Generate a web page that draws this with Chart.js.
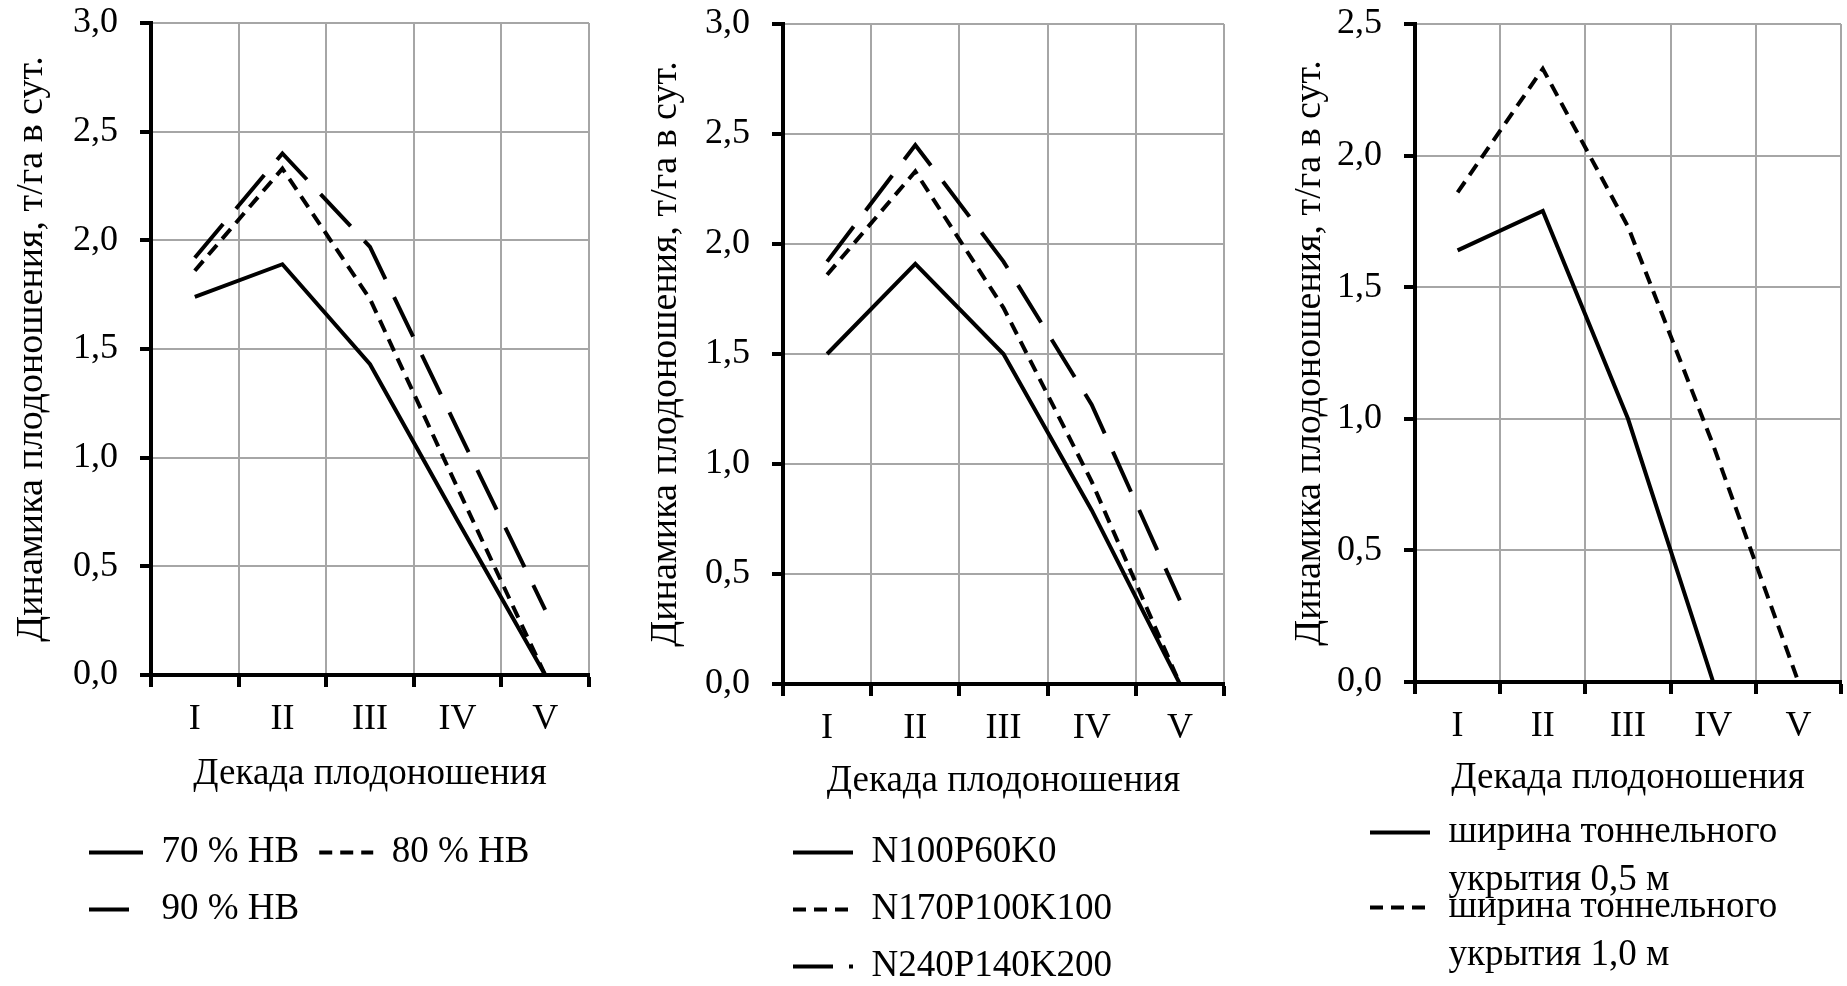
<!DOCTYPE html>
<html lang="ru">
<head>
<meta charset="utf-8">
<title>Динамика плодоношения</title>
<script src="https://cdn.jsdelivr.net/npm/chart.js@4.4.1/dist/chart.umd.min.js"></script>
<style>
  html, body { margin: 0; padding: 0; background: #fff; overflow: hidden; }
  body { width: 1847px; height: 986px; position: relative; }
  canvas { position: absolute; top: 0; }
  #c1 { left: 0; }
  #c2 { left: 620px; }
  #c3 { left: 1250px; }
</style>
</head>
<body>
<canvas id="c1" width="610" height="938"></canvas>
<canvas id="c2" width="625" height="995"></canvas>
<canvas id="c3" width="597" height="986"></canvas>
<script>
/* ===== data ===== */
const decades = ["I", "II", "III", "IV", "V"];

// chart 1: влажность почвы
const names1 = ["70 % НВ", "80 % НВ", "90 % НВ"];
const hb70 = [1.74, 1.89, 1.43, 0.71, 0];
const hb80 = [1.86, 2.33, 1.73, 0.86, 0];
const hb90 = [1.92, 2.40, 1.97, 1.13, 0.30];

// chart 2: удобрения
const names2 = ["N100P60K0", "N170P100K100", "N240P140K200"];
const npk1 = [1.50, 1.91, 1.50, 0.79, 0];
const npk2 = [1.86, 2.33, 1.71, 0.92, 0];
const npk3 = [1.92, 2.45, 1.92, 1.27, 0.38];

// chart 3: ширина укрытия
const names3 = [["ширина тоннельного", "укрытия 0,5 м"], ["ширина тоннельного", "укрытия 1,0 м"]];
const w05 = [1.64, 1.79, 1.00, 0, 0];
const w10 = [1.86, 2.33, 1.73, 0.90, 0];

const yTicks12 = { min: 0, max: 3, step: 0.5 };
const yTicks3 = { min: 0, max: 2.5, step: 0.5 };

const yTitle = "Динамика плодоношения, т/га в сут.";
const xTitle = "Декада плодоношения";

/* ===== styles ===== */
const SOLID = { line: [], legend: [] };
const SHORT = { line: [13, 8], legend: [13, 8] };
const LONG = { line: [44, 20], legend: [40, 16] };
const FONT = "Liberation Serif";

// two-line legend labels hang below the legend box; give them room
const legendOverflow = {
    id: "legendOverflow",
    afterLayout(chart, args, opts) {
        if (chart.legend && opts.extra) chart.legend.bottom += opts.extra;
    }
};

function buildChart(id, opt) {
    const datasets = opt.series.map(s => ({
        label: Array.isArray(s.name) ? s.name.join(" ") : s.name,
        legendText: s.name,
        legendDash: s.dash.legend,
        data: s.values,
        borderColor: "#000",
        borderWidth: 4,
        borderDash: s.dash.line,
        pointRadius: 0,
        tension: 0,
        fill: false
    }));

    return new Chart(document.getElementById(id), {
        type: "line",
        data: { labels: decades, datasets },
        plugins: [legendOverflow],
        options: {
            responsive: false,
            animation: false,
            events: [],
            layout: { padding: opt.pad },
            plugins: {
                tooltip: { enabled: false },
                legendOverflow: { extra: opt.legendExtra || 0 },
                legend: {
                    position: "bottom",
                    align: "start",
                    labels: {
                        usePointStyle: true,
                        pointStyleWidth: opt.sample,
                        padding: opt.legendGap,
                        color: "#000",
                        font: { family: FONT, size: 37, lineHeight: opt.legendLine },
                        generateLabels: chart => chart.data.datasets.map((ds, i) => ({
                            text: ds.legendText,
                            fillStyle: "rgba(0,0,0,0)",
                            strokeStyle: "#000",
                            fontColor: "#000",
                            lineWidth: 4,
                            lineDash: ds.legendDash,
                            lineCap: "butt",
                            pointStyle: "line",
                            hidden: false,
                            datasetIndex: i
                        }))
                    }
                }
            },
            scales: {
                x: {
                    offset: true,
                    afterFit: s => {
                        s.height = opt.xHeight;
                        s.paddingLeft = 0;
                        s.paddingRight = 0;
                    },
                    grid: {
                        offset: true,
                        color: "#a6a6a6",
                        lineWidth: 2,
                        tickColor: "#000",
                        tickWidth: 4,
                        tickLength: 12
                    },
                    border: { color: "#000", width: 4 },
                    ticks: { color: "#000", padding: 11, font: { family: FONT, size: 36 } },
                    title: {
                        display: true,
                        text: xTitle,
                        color: "#000",
                        font: { family: FONT, size: 37 },
                        padding: { top: 0, bottom: opt.xTitlePad }
                    }
                },
                y: {
                    min: opt.yRange.min,
                    max: opt.yRange.max,
                    afterFit: s => {
                        s.width = opt.yWidth;
                        s.paddingTop = 0;
                        s.paddingBottom = 0;
                    },
                    grid: {
                        color: "#a6a6a6",
                        lineWidth: 2,
                        tickColor: "#000",
                        tickWidth: 4,
                        tickLength: 11
                    },
                    border: { color: "#000", width: 4 },
                    // mirror + negative padding: labels sit 33px left of the axis
                    // without being clipped to the (narrow) scale box
                    ticks: {
                        stepSize: opt.yRange.step,
                        mirror: true,
                        crossAlign: "far",
                        padding: -78,
                        color: "#000",
                        font: { family: FONT, size: 36 },
                        callback: v => v.toFixed(1).replace(".", ",")
                    },
                    title: {
                        display: true,
                        text: yTitle,
                        color: "#000",
                        font: { family: FONT, size: 38 },
                        padding: { top: opt.yTitlePad, bottom: 0 }
                    }
                }
            }
        }
    });
}

buildChart("c1", {
    series: [
        { name: names1[0], values: hb70, dash: SOLID },
        { name: names1[1], values: hb80, dash: SHORT },
        { name: names1[2], values: hb90, dash: LONG }
    ],
    yRange: yTicks12,
    pad: { left: 69, right: 21, top: 23, bottom: 0 },
    yWidth: 82,
    xHeight: 139,
    xTitlePad: 18,
    yTitlePad: -60,
    sample: 54,
    legendGap: 20,
    legendLine: 1.2
});

buildChart("c2", {
    series: [
        { name: names2[0], values: npk1, dash: SOLID },
        { name: names2[1], values: npk2, dash: SHORT },
        { name: names2[2], values: npk3, dash: LONG }
    ],
    yRange: yTicks12,
    pad: { left: 153, right: 21, top: 24, bottom: 0 },
    yWidth: 10,
    xHeight: 130,
    xTitlePad: 11,
    yTitlePad: -130,
    sample: 60,
    legendGap: 20,
    legendLine: 1.2
});

buildChart("c3", {
    series: [
        { name: names3[0], values: w05, dash: SOLID },
        { name: names3[1], values: w10, dash: SHORT }
    ],
    yRange: yTicks3,
    pad: { left: 82, right: 6, top: 24, bottom: 50 },
    yWidth: 83,
    xHeight: 94,
    xTitlePad: -24,
    yTitlePad: -45,
    sample: 60,
    legendGap: 38,
    legendLine: 1.3,
    legendExtra: 50
});
</script>
</body>
</html>
